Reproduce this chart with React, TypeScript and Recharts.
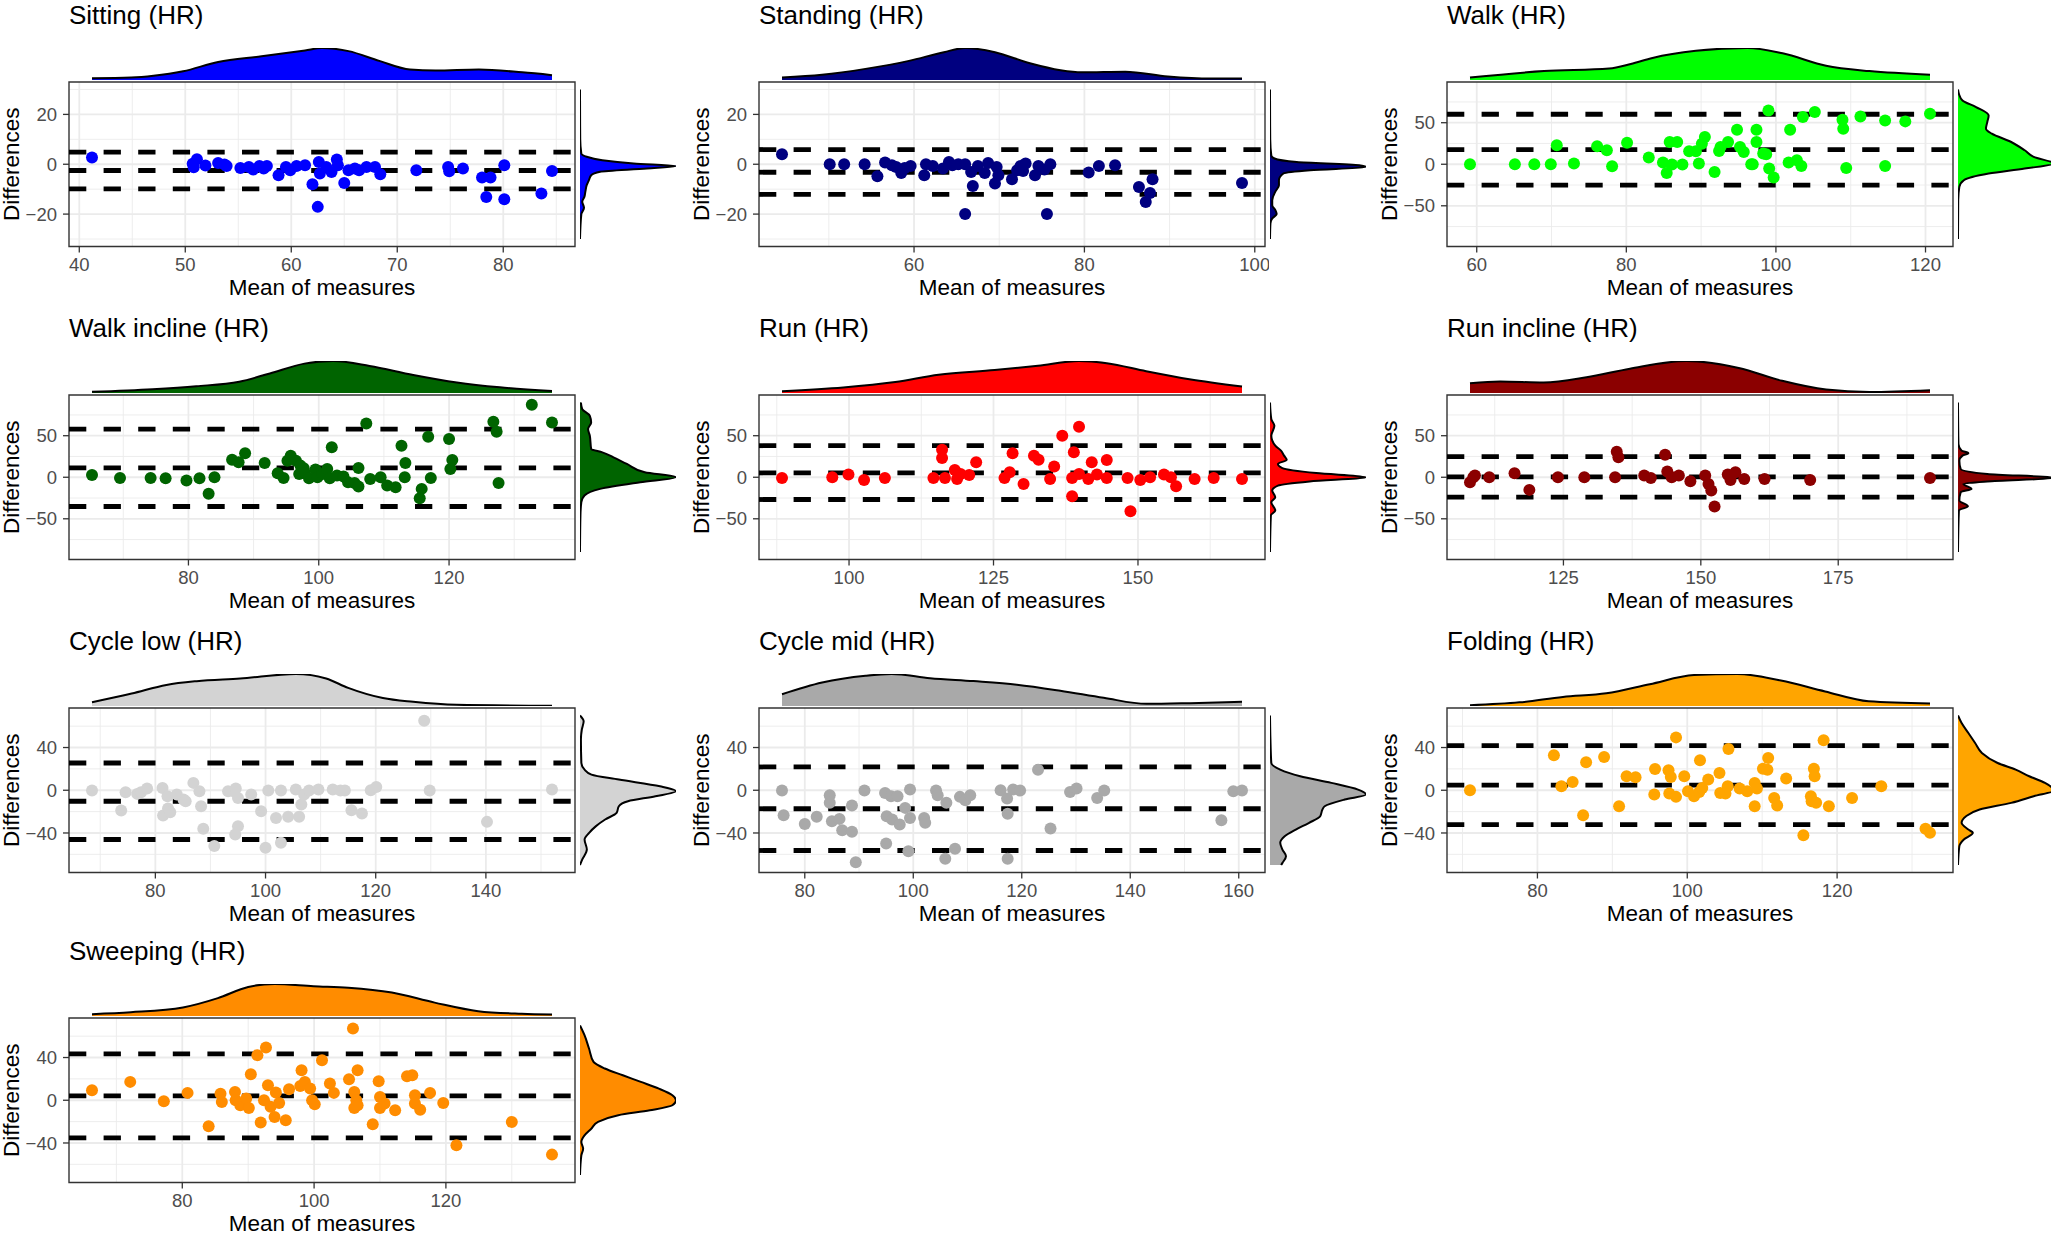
import React from "react";
import {
  ScatterChart, Scatter, XAxis, YAxis, CartesianGrid, ReferenceLine, ReferenceArea,
  AreaChart, Area,
} from "recharts";

const FONT = '"Liberation Sans", Arial, Helvetica, sans-serif';

// ---- data: [mean of measures, difference] ----
const sittingPoints = [
  [41.2, 2.7], [50.7, 0.2], [50.8, -1.2], [51.1, 2.0], [51.9, -0.5], [53.1, 0.5], [53.7, -0.1], [53.9, -0.7],
  [55.2, -1.5], [56.0, -1.1], [56.4, -2.1], [57.0, -0.7], [57.4, -1.7], [57.7, -0.7], [58.8, -4.4],
  [59.5, -1.1], [59.9, -2.4], [60.5, -0.7], [61.3, -0.4], [62.0, -8.0], [62.5, -17.1], [62.6, 0.9], [62.7, -3.7],
  [63.3, -1.1], [63.8, -3.1], [64.3, 1.9], [64.4, -0.4], [65.0, -7.5], [65.4, -2.4], [66.0, -1.7], [66.4, -2.4],
  [67.1, -1.1], [67.9, -1.1], [68.4, -4.0], [71.8, -2.4], [74.8, -1.1], [74.9, -2.8], [76.2, -1.7], [78.0, -5.3],
  [78.8, -5.3], [78.4, -13.1], [80.1, -0.4], [80.1, -14.0], [83.6, -11.7], [84.6, -2.7],
];
const standingPoints = [
  [44.5, 4.0], [50.1, 0], [51.8, 0], [54.2, 0], [55.7, -4.8], [56.6, 0.7], [57.4, -0.4], [57.9, -1.1], [58.5, -3.5],
  [58.9, -1.5], [59.6, -0.7], [61.2, -4.4], [61.4, 0], [62.2, -0.7], [63.4, -1.7], [64.1, 0.9], [64.5, -0.4],
  [65.2, 0], [66.0, 0], [66.0, -20], [66.7, -3.1], [66.9, -8.7], [67.5, -0.7], [68.3, -3.5], [68.7, 0.5],
  [69.5, -7.7], [69.7, -1.1], [69.9, -4.4], [71.5, -6.0], [72.1, -2.4], [72.5, -0.7], [72.8, -2.7], [73.1, 0.3],
  [74.2, -4.4], [74.6, -0.7], [75.3, -2.1], [75.6, -20], [76.0, 0], [80.5, -3.3], [81.7, -0.7], [83.6, -0.4],
  [86.4, -9.1], [87.2, -15.1], [87.7, -11.5], [88.0, -6.0], [98.5, -7.5],
];
const walkPoints = [
  [59.1, 0], [65.1, 0], [67.7, 0], [69.9, 0], [70.7, 22.8], [73.0, 0.8], [76.1, 21.6], [77.4, 16.8], [78.1, -2.4],
  [80.1, 26.0], [83.0, 8.0], [84.9, 2.0], [85.4, -10.4], [85.8, 26.8], [86.1, -0.4], [86.8, 26.8], [87.5, -0.4],
  [88.4, 15.6], [89.3, 15.6], [89.7, 0.8], [90.1, 24.8], [90.5, 32.8], [91.8, -9.2], [92.4, 16], [92.6, 20.8],
  [93.6, 26.8], [94.8, 41.6], [95.2, 20.8], [95.7, 14.8], [96.7, 0], [96.9, 0], [97.4, 26.8], [97.4, 41.6],
  [98.3, 12.8], [98.7, 12], [99.0, 64.8], [99.1, -5.2], [99.7, -16], [101.7, 2], [101.9, 41.6], [102.8, 4.8],
  [103.4, -2], [103.6, 56.8], [105.2, 62.8], [108.9, 53.6], [109.0, 42.8], [109.4, -4.4], [111.3, 57.6],
  [114.6, 52.8], [114.6, -2], [117.3, 51.6], [120.6, 60.8],
];
const walkInclinePoints = [
  [65.2, 2.8], [69.5, -0.8], [74.2, -0.8], [76.5, -1.2], [79.7, -4], [81.7, -1.2], [83.1, -20], [84.0, 0],
  [86.7, 21.2], [87.7, 18], [88.7, 28.8], [91.7, 17.2], [93.7, 4.8], [94.6, -0.8], [95.2, 20], [95.7, 26],
  [96.5, 20], [97.2, 14], [97.0, 4], [97.7, 10.8], [97.9, 4.8], [98.5, -1.2], [99.5, 9.2], [99.8, 0], [100.6, 4],
  [101.3, 10], [101.7, -1.2], [102.0, 36], [102.8, 2], [103.8, 0.8], [104.5, -6], [105.5, -6.8], [106.1, -11.2],
  [106.1, 11.2], [107.3, 64.8], [107.9, -2], [109.5, 0], [110.5, -10], [111.8, -12], [112.7, 38], [113.2, 0],
  [113.3, 17.2], [115.5, -25.2], [115.8, -14], [116.8, 48.8], [117.2, -0.8], [120, 46], [120.2, 10], [120.5, 20.8],
  [126.8, 66.8], [127.3, 54.8], [127.6, -6.8], [132.7, 87.2], [135.8, 66],
];
const runPoints = [
  [88.4, -0.8], [97.1, 0], [99.9, 3.2], [102.6, -3.2], [106.2, -0.8], [114.6, -0.8], [116.1, 33.2], [116.1, 23.2],
  [116.6, -0.8], [118.3, 8.8], [118.7, -2], [119.3, 4], [120.8, 2.8], [122.0, 18], [126.9, -0.8], [127.8, 6],
  [128.3, 28.8], [130.2, -8], [132.0, 26], [132.8, 21.2], [134.8, -2], [135.5, 12.8], [136.9, 50], [138.6, -0.8],
  [138.6, -22.8], [138.9, 30], [139.8, 60.8], [139.8, 4], [141.4, -2], [142.0, 18], [142.9, 3.2], [144.6, 20.8],
  [144.6, -0.8], [148.2, -0.8], [148.7, -40.8], [150.4, -3.2], [152.1, 0], [154.5, 3.2], [155.7, 0],
  [156.6, -10.8], [159.8, -2], [163.1, -0.8], [168.0, -2],
];
const runInclinePoints = [
  [108.0, -6], [108.6, 0], [108.9, 2], [111.5, 0], [116.1, 4.8], [118.8, -15.2], [124.0, 0], [128.8, 0],
  [134.4, 0], [134.7, 30.8], [135.0, 24], [139.7, 2], [140.9, -0.8], [143.5, 27.2], [143.9, 6.8], [144.7, 0],
  [146.0, 2], [148.1, -4.8], [150.8, 2], [151.4, -8], [151.9, -16], [152.5, -35.2], [154.9, 3.2], [155.4, -3.2],
  [156.3, 6], [157.9, -2], [161.6, -2], [169.9, -3.2], [191.7, -0.8],
];
const cycleLowPoints = [
  [68.5, -0.3], [73.8, -19], [74.6, -1.9], [76.7, -3.4], [77.4, -1.9], [78.5, 1.6], [81.3, 2.2], [81.4, -23.7],
  [82.2, -5.6], [82.3, -17.1], [82.7, -20.6], [83.9, -4], [85.1, -8.7], [85.5, -10.3], [86.9, 6.9], [88.0, -0.9],
  [88.3, -15], [88.7, -36.1], [90.7, -52.3], [93.2, -0.9], [94.2, -0.9], [94.6, 1.6], [94.5, -41.4], [95.0, -33.6],
  [95.0, -7.2], [97.4, -4], [99.2, -19.6], [100, -53.9], [100.5, -0.3], [101.9, -25.9], [102.8, -0.3],
  [102.8, -49.2], [104.1, -24.9], [105.5, 0.6], [106.1, -24.9], [106.5, -13.4], [107.0, -4], [107.9, -0.3],
  [109.6, 0.6], [112.2, 0.6], [113.6, -0.3], [114.4, -0.3], [115.6, -18.7], [117.5, -21.8], [119.1, 0],
  [120.1, 3.1], [128.8, 65.1], [129.8, -0.3], [140.2, -29.6], [152.0, 0.6],
];
const cycleMidPoints = [
  [75.8, -0.3], [76.1, -23.4], [80.0, -31.5], [82.2, -24.9], [84.6, -4.7], [84.6, -11.8], [85.0, -29],
  [86.4, -26.8], [86.9, -37.4], [88.7, -14.3], [88.7, -38.9], [89.4, -67.3], [91.0, -0.3], [94.8, -2.5],
  [95.0, -49.8], [95.1, -24.3], [95.9, -5.6], [96.1, -27.4], [97.1, -5.6], [97.5, -32.1], [98.5, -16.5],
  [99.1, -57], [99.4, 0.6], [99.4, -25.9], [102.0, -25.9], [102.2, -30.5], [104.2, -0.3], [104.5, -4.7],
  [105.9, -64.2], [106.1, -11.8], [107.7, -54.8], [108.6, -6.2], [109.6, -9.3], [110.5, -4.7], [116.1, 0],
  [117.3, -7.8], [117.4, -22.1], [117.4, -64.2], [118.4, 0.6], [119.7, -0.3], [123.0, 19.3], [125.3, -35.8],
  [128.9, -1.6], [130.1, 1.6], [133.9, -7.2], [135.2, -0.3], [156.8, -28], [159.0, -0.9], [160.6, -0.3],
];
const foldingPoints = [
  [71.0, 0], [82.2, 32.7], [83.2, 3.7], [84.7, 7.8], [86.1, -23.4], [86.5, 26.2], [88.9, 31.2], [90.9, -15],
  [91.9, 13.1], [93.1, 12.1], [95.6, -4], [95.7, 19.9], [97.5, 18.7], [97.6, -3.1], [97.8, 12.5], [98.5, -6.2],
  [98.5, 49.5], [99.6, 13.1], [100.1, -0.9], [100.9, -5.6], [101.6, -1.6], [101.7, 28], [102.0, 2.2], [102.8, 10],
  [104.3, 16.2], [104.4, -2.5], [105.1, -3.1], [105.4, 3.7], [105.5, 38.6], [107.0, 1.6], [108.0, -0.9],
  [109.0, 6.9], [109.0, -15], [109.3, 1.6], [110.1, 20.2], [110.7, 19.3], [110.8, 30.2], [111.6, -7.2],
  [112.0, -14.3], [113.2, 10.9], [115.5, -42.1], [116.5, -5.6], [116.6, -10.3], [116.9, 20.2], [117.0, 13.1],
  [117.2, -11.8], [118.2, 46.7], [118.9, -15], [122.0, -7.2], [125.9, 3.7], [131.8, -36.1], [132.4, -39.9],
];
const sweepingPoints = [
  [66.3, 9.4], [72.1, 17.2], [77.2, -0.9], [80.8, 6.9], [84.0, -24.4], [85.8, 6.2], [86.0, -1.6], [88.0, 7.8],
  [88.1, 0], [88.8, -4.7], [89.7, 1.6], [90.1, -7.2], [90.4, 24.4], [91.4, 42.2], [91.9, -20.9], [92.4, 0],
  [92.7, 49.4], [93.0, 14.1], [93.4, -6.2], [94.0, -15.6], [94.2, 7.2], [94.7, -2.5], [95.7, -18.8], [96.2, 10.3],
  [97.9, 13.4], [98.1, 28.1], [98.6, 17.2], [99.4, 10.9], [99.7, 0], [100.1, -3.8], [101.2, 37.5], [102.4, 15.6],
  [103.0, 6.9], [105.3, 19.7], [105.9, 67.2], [106.1, 7.8], [106.1, -7.2], [106.4, 0], [106.6, 28.1],
  [106.6, -4.7], [108.9, -22.5], [109.8, 17.8], [110.0, 3.1], [110.0, -7.2], [110.7, -3.1], [112.3, -9.4],
  [114.1, 22.5], [114.9, 23.4], [115.3, 4.7], [115.3, -3.1], [116.1, -8.8], [117.6, 6.9], [119.6, -2.5],
  [121.6, -42.2], [130.0, -20.3], [136.1, -50.9],
];

// ---- limits of agreement: [upper, mean, lower] ----
const sittingLimits = [4.9, -2.5, -9.9];
const standingLimits = [5.9, -3.2, -12.1];
const walkLimits = [60.2, 17.5, -25.2];
const walkInclineLimits = [58, 11.4, -35.2];
const runLimits = [38, 5.2, -26.8];
const runInclineLimits = [24.8, 0.4, -24];
const cycleLowLimits = [25.5, -10.3, -46.1];
const cycleMidLimits = [21.8, -17.3, -56.4];
const foldingLimits = [41.7, 4.8, -32.1];
const sweepingLimits = [43.4, 4.1, -35.3];

// ---- top marginal density: [mean of measures, density height] ----
const sittingTop = [[41.2, 5], [44.9, 7], [47.0, 12], [49.8, 25], [53.1, 52], [57.2, 68], [61.3, 85], [62.9, 92], [65.4, 83], [68.3, 55], [71.2, 30], [73.6, 27], [77.7, 30], [81.8, 22], [84.6, 14]];
const standingTop = [[44.5, 7], [49.2, 15], [54.3, 32], [59.4, 55], [63.5, 80], [66.0, 92], [69.5, 80], [73.6, 48], [77.2, 28], [79.7, 22], [84.8, 24], [89.8, 10], [94.9, 4], [98.5, 4]];
const walkTop = [[59.1, 7], [69.0, 25], [77.7, 32], [80.6, 45], [83.5, 62], [89.3, 82], [96.2, 90], [100.9, 75], [106.7, 40], [112.5, 25], [120.6, 15]];
const walkInclineTop = [[65.2, 3], [74.5, 10], [81.2, 18], [87.8, 30], [92.5, 52], [97.8, 78], [102.2, 85], [107.8, 72], [114.5, 48], [121.2, 28], [127.8, 15], [135.8, 5]];
const runTop = [[88.4, 5], [99.0, 15], [108.0, 30], [115.5, 50], [125.2, 63], [132.7, 75], [139.8, 88], [144.6, 82], [151.4, 60], [158.9, 38], [168.0, 18]];
const runInclineTop = [[108.0, 28], [113.5, 33], [121.4, 30], [129.2, 45], [137.1, 70], [147.4, 92], [156.9, 72], [164.8, 35], [172.8, 10], [180.7, 3], [191.7, 8]];
const cycleLowTop = [[68.5, 10], [75.7, 33], [82.0, 56], [87.5, 66], [95.4, 73], [105.5, 85], [111.0, 73], [115.0, 48], [121.3, 21], [126.8, 11], [134.7, 3], [152.0, 0.5]];
const cycleMidTop = [[75.8, 33], [83.2, 66], [91.2, 85], [96.0, 90], [103.1, 78], [111.1, 70], [119.1, 60], [127.1, 43], [135.1, 23], [143.0, 6], [151.0, 8], [160.6, 12]];
const foldingTop = [[71.0, 2], [77.6, 10], [83.4, 25], [89.2, 35], [95.0, 60], [100.9, 85], [106.7, 88], [112.5, 70], [118.4, 40], [124.2, 13], [132.4, 7]];
const sweepingTop = [[66.3, 5], [72.2, 10], [80.1, 23], [85.4, 48], [90.0, 78], [94.0, 86], [99.9, 80], [105.2, 76], [111.8, 63], [118.3, 36], [124.9, 13], [131.5, 6], [136.1, 4]];

// ---- right marginal density: [difference, density width] ----
const sittingRight = [[30, 0], [10, 0.5], [4.3, 3], [3, 15], [1.6, 50], [0.3, 120], [-0.7, 215], [-1.7, 150], [-3, 45], [-4.4, 25], [-6.4, 20], [-8.4, 15], [-11, 12], [-13, 10], [-15, 5], [-17.5, 9], [-20, 3], [-30, 0]];
const standingRight = [[30, 0], [10, 0.5], [3.5, 3], [2.3, 10], [0.9, 60], [-0.4, 200], [-1.1, 215], [-2.4, 90], [-3.7, 30], [-6.4, 20], [-8.4, 20], [-11, 12], [-14.4, 5], [-16.4, 5], [-18.4, 12], [-20, 15], [-21.7, 5], [-23.7, 1], [-30, 0]];
const walkRight = [[90, 0], [84.8, 2], [76.8, 10], [68.8, 40], [58.8, 68], [50.8, 65], [42.8, 62], [36.8, 75], [26.8, 118], [16.8, 148], [8.8, 168], [0.8, 213], [-5.2, 148], [-11.2, 68], [-19.2, 13], [-27.2, 3], [-43, 0.5], [-90, 0]];
const walkInclineRight = [[90, 2], [82, 5], [74, 22], [66, 25], [58, 18], [50, 22], [34, 25], [30, 50], [24, 75], [16, 105], [6, 145], [0, 215], [-6, 135], [-14, 45], [-22, 10], [-30, 3], [-46, 1], [-90, 0]];
const runRight = [[90, 0], [70, 3], [62, 10], [50, 3], [38, 12], [32, 25], [26, 32], [21, 38], [16, 18], [11, 28], [5, 105], [0, 218], [-5, 90], [-10, 18], [-16, 5], [-24, 12], [-30, 3], [-40, 12], [-46, 2], [-90, 0]];
const runInclineRight = [[90, 0], [40, 1], [32, 8], [29, 23], [26, 10], [20, 3], [10, 6], [4, 65], [-0.8, 213], [-5, 65], [-8, 12], [-14, 30], [-18, 6], [-28, 3], [-35, 22], [-40, 2], [-90, 0]];
const cycleLowRight = [[70, 0], [64.5, 8], [56.7, 4], [47.4, 2], [25.5, 3], [19.3, 10], [14.6, 25], [10, 85], [3.7, 175], [-0.9, 210], [-5.6, 165], [-10.3, 105], [-15, 85], [-21.2, 80], [-27.4, 55], [-33.6, 35], [-39.9, 20], [-46.1, 10], [-55.5, 15], [-64.8, 5], [-70, 0]];
const cycleMidRight = [[70, 0], [47.4, 1], [25.5, 3], [19.3, 23], [13.1, 68], [6.9, 138], [0.6, 198], [-4, 216], [-8.7, 168], [-15, 123], [-18, 118], [-24.3, 113], [-30.5, 88], [-36.8, 58], [-43, 33], [-49.2, 23], [-55.5, 28], [-61.7, 36], [-68, 28], [-70, 25]];
const foldingRight = [[70, 0], [62.9, 8], [53.6, 23], [44.2, 38], [34.9, 53], [25.5, 88], [19.3, 128], [13.1, 158], [6.9, 193], [-0.3, 213], [-5.6, 168], [-11.8, 118], [-18, 48], [-24.3, 18], [-30.5, 8], [-36.8, 23], [-39.9, 33], [-46.1, 13], [-52.3, 3], [-70, 0]];
const sweepingRight = [[70, 0], [60.9, 10], [48.4, 20], [35.9, 30], [29.7, 55], [23.4, 95], [17.2, 135], [10.9, 175], [4.7, 205], [0, 213], [-4.7, 205], [-9.4, 155], [-14, 85], [-20.3, 40], [-26.6, 25], [-32.8, 10], [-39, 3], [-45.3, 7], [-51.6, 3], [-70, 0]];

// ---- axis ticks ----
const sittingXTicks = [40, 50, 60, 70, 80];
const standingXTicks = [60, 80, 100];
const walkXTicks = [60, 80, 100, 120];
const walkInclineXTicks = [80, 100, 120];
const runXTicks = [100, 125, 150];
const runInclineXTicks = [125, 150, 175];
const cycleLowXTicks = [80, 100, 120, 140];
const cycleMidXTicks = [80, 100, 120, 140, 160];
const foldingXTicks = [80, 100, 120];
const sweepingXTicks = [80, 100, 120];
const yTicks30 = [-20, 0, 20];
const yTicks90 = [-50, 0, 50];
const yTicks70 = [-40, 0, 40];

const panels = [
  { title: "Sitting (HR)", color: "#0000FF", points: sittingPoints, limits: sittingLimits, top: sittingTop, right: sittingRight, xTicks: sittingXTicks, xStep: 10, yTicks: yTicks30, yLim: 30, col: 0, row: 0 },
  { title: "Standing (HR)", color: "#000080", points: standingPoints, limits: standingLimits, top: standingTop, right: standingRight, xTicks: standingXTicks, xStep: 20, yTicks: yTicks30, yLim: 30, col: 1, row: 0 },
  { title: "Walk (HR)", color: "#00FF00", points: walkPoints, limits: walkLimits, top: walkTop, right: walkRight, xTicks: walkXTicks, xStep: 20, yTicks: yTicks90, yLim: 90, col: 2, row: 0 },
  { title: "Walk incline (HR)", color: "#006400", points: walkInclinePoints, limits: walkInclineLimits, top: walkInclineTop, right: walkInclineRight, xTicks: walkInclineXTicks, xStep: 20, yTicks: yTicks90, yLim: 90, col: 0, row: 1 },
  { title: "Run (HR)", color: "#FF0000", points: runPoints, limits: runLimits, top: runTop, right: runRight, xTicks: runXTicks, xStep: 25, yTicks: yTicks90, yLim: 90, col: 1, row: 1 },
  { title: "Run incline (HR)", color: "#8B0000", points: runInclinePoints, limits: runInclineLimits, top: runInclineTop, right: runInclineRight, xTicks: runInclineXTicks, xStep: 25, yTicks: yTicks90, yLim: 90, col: 2, row: 1 },
  { title: "Cycle low (HR)", color: "#D3D3D3", points: cycleLowPoints, limits: cycleLowLimits, top: cycleLowTop, right: cycleLowRight, xTicks: cycleLowXTicks, xStep: 20, yTicks: yTicks70, yLim: 70, col: 0, row: 2 },
  { title: "Cycle mid (HR)", color: "#A9A9A9", points: cycleMidPoints, limits: cycleMidLimits, top: cycleMidTop, right: cycleMidRight, xTicks: cycleMidXTicks, xStep: 20, yTicks: yTicks70, yLim: 70, col: 1, row: 2 },
  { title: "Folding (HR)", color: "#FFA500", points: foldingPoints, limits: foldingLimits, top: foldingTop, right: foldingRight, xTicks: foldingXTicks, xStep: 20, yTicks: yTicks70, yLim: 70, col: 2, row: 2 },
  { title: "Sweeping (HR)", color: "#FF8C00", points: sweepingPoints, limits: sweepingLimits, top: sweepingTop, right: sweepingRight, xTicks: sweepingXTicks, xStep: 20, yTicks: yTicks70, yLim: 70, col: 0, row: 3 },
];

const COL_X = [69, 759, 1447];
const ROW_Y = [82, 395, 708, 1018];
const PW = 506;
const PH = 164.5;
const YW = 75;
const MT = 4;
const MR = 4;
const XH = 40;

const minus = (v: number) => String(v).replace("-", "\u2212");

// minor grid lines halfway between major ticks, inside the domain
function minorLines(ticks: number[], step: number, lo: number, hi: number) {
  const out: number[] = [];
  const first = ticks[0] - step / 2;
  for (let v = first - step * 3; v <= hi; v += step) {
    if (v >= lo && v <= hi) out.push(v);
  }
  return out;
}

function Panel({ p }: { p: any }) {
  const left = COL_X[p.col];
  const top = ROW_Y[p.row];
  const xs = p.points.map((d: number[]) => d[0]);
  const xMin = Math.min(...xs);
  const xMax = Math.max(...xs);
  const pad = (xMax - xMin) * 0.05;
  const xDomain = [xMin - pad, xMax + pad];
  const yDomain = [-p.yLim * 1.1, p.yLim * 1.1];
  const yStep = p.yTicks[1] - p.yTicks[0];
  const xMinor = minorLines(p.xTicks, p.xStep, xDomain[0], xDomain[1]);
  const yMinor = minorLines(p.yTicks, yStep, yDomain[0], yDomain[1]);
  const scatterData = p.points.map((d: number[]) => ({ x: d[0], y: d[1] }));
  const topData = p.top.map((d: number[]) => ({ x: d[0], d: d[1] }));
  const rightData = p.right.map((d: number[]) => ({ y: d[0], d: d[1] }));
  const topMax = Math.max(...p.top.map((d: number[]) => d[1]));
  const rightMax = Math.max(...p.right.map((d: number[]) => d[1]));
  const tickStyle = { fill: "#4D4D4D", fontSize: 18.5, fontFamily: FONT };

  return (
    <>
      <div style={{ position: "absolute", left: left, top: top - 36 }}>
        <AreaChart width={PW} height={36} data={topData} margin={{ top: 2, right: 0, bottom: 2, left: 0 }}>
          <XAxis type="number" dataKey="x" domain={xDomain} allowDataOverflow hide />
          <YAxis type="number" domain={[0, topMax]} allowDataOverflow hide />
          <Area type="monotone" dataKey="d" fill={p.color} fillOpacity={1} stroke="#000000" strokeWidth={2}
            dot={false} activeDot={false} isAnimationActive={false} />
        </AreaChart>
      </div>

      <div style={{ position: "absolute", left: left + PW + 3, top: top }}>
        <AreaChart layout="vertical" width={100} height={PH} data={rightData} margin={{ top: 0, right: 2, bottom: 0, left: 2 }}>
          <XAxis type="number" domain={[0, rightMax]} allowDataOverflow hide />
          <YAxis type="number" dataKey="y" domain={yDomain} allowDataOverflow reversed hide />
          <Area type="monotone" dataKey="d" fill={p.color} fillOpacity={1} stroke="#000000" strokeWidth={2}
            dot={false} activeDot={false} isAnimationActive={false} />
        </AreaChart>
      </div>

      <div style={{ position: "absolute", left: left - YW, top: top - MT }}>
        <ScatterChart width={YW + PW + MR} height={MT + PH + XH} margin={{ top: MT, right: MR, bottom: 0, left: 0 }}>
          <CartesianGrid horizontalValues={yMinor} verticalValues={xMinor} stroke="#EBEBEB" strokeWidth={0.9} />
          <CartesianGrid horizontalValues={p.yTicks} verticalValues={p.xTicks} stroke="#EBEBEB" strokeWidth={1.8} />
          <XAxis type="number" dataKey="x" domain={xDomain} ticks={p.xTicks} allowDataOverflow height={XH}
            axisLine={false} tickSize={6} tickMargin={5} tickLine={{ stroke: "#333333", strokeWidth: 1.3 }} tick={tickStyle} />
          <YAxis type="number" dataKey="y" domain={yDomain} ticks={p.yTicks} allowDataOverflow width={YW}
            axisLine={false} tickSize={6} tickMargin={6} tickLine={{ stroke: "#333333", strokeWidth: 1.3 }} tick={tickStyle}
            tickFormatter={minus} />
          <ReferenceArea x1={xDomain[0]} x2={xDomain[1]} y1={yDomain[0]} y2={yDomain[1]} fill="none"
            stroke="#333333" strokeWidth={1.4} ifOverflow="visible" />
          <Scatter data={scatterData} fill={p.color} isAnimationActive={false}
            shape={(s: any) => <circle cx={s.cx} cy={s.cy} r={6} fill={p.color} />} />
          {p.limits.map((v: number) => (
            <ReferenceLine key={v} y={v} stroke="#000000" strokeWidth={4.8} strokeDasharray="17.3 17.3" />
          ))}
        </ScatterChart>
      </div>
    </>
  );
}

export default function App() {
  return (
    <div style={{ position: "absolute", left: 0, top: 0, width: 2051, height: 1238, background: "#FFFFFF", overflow: "hidden" }}>
      <svg width={2051} height={1238} style={{ position: "absolute", left: 0, top: 0 }}>
        {panels.map((p) => {
          const left = COL_X[p.col];
          const top = ROW_Y[p.row];
          return (
            <g key={p.title} fontFamily={FONT} fill="#000000">
              <text x={left} y={top - 58.5} fontSize={26}>{p.title}</text>
              <text x={left + PW / 2} y={top + PH + 48} fontSize={22.5} textAnchor="middle">Mean of measures</text>
              <text transform={`translate(${left - 50}, ${top + PH / 2}) rotate(-90)`} fontSize={22.5} textAnchor="middle">Differences</text>
            </g>
          );
        })}
      </svg>
      {panels.map((p) => <Panel key={p.title} p={p} />)}
    </div>
  );
}
